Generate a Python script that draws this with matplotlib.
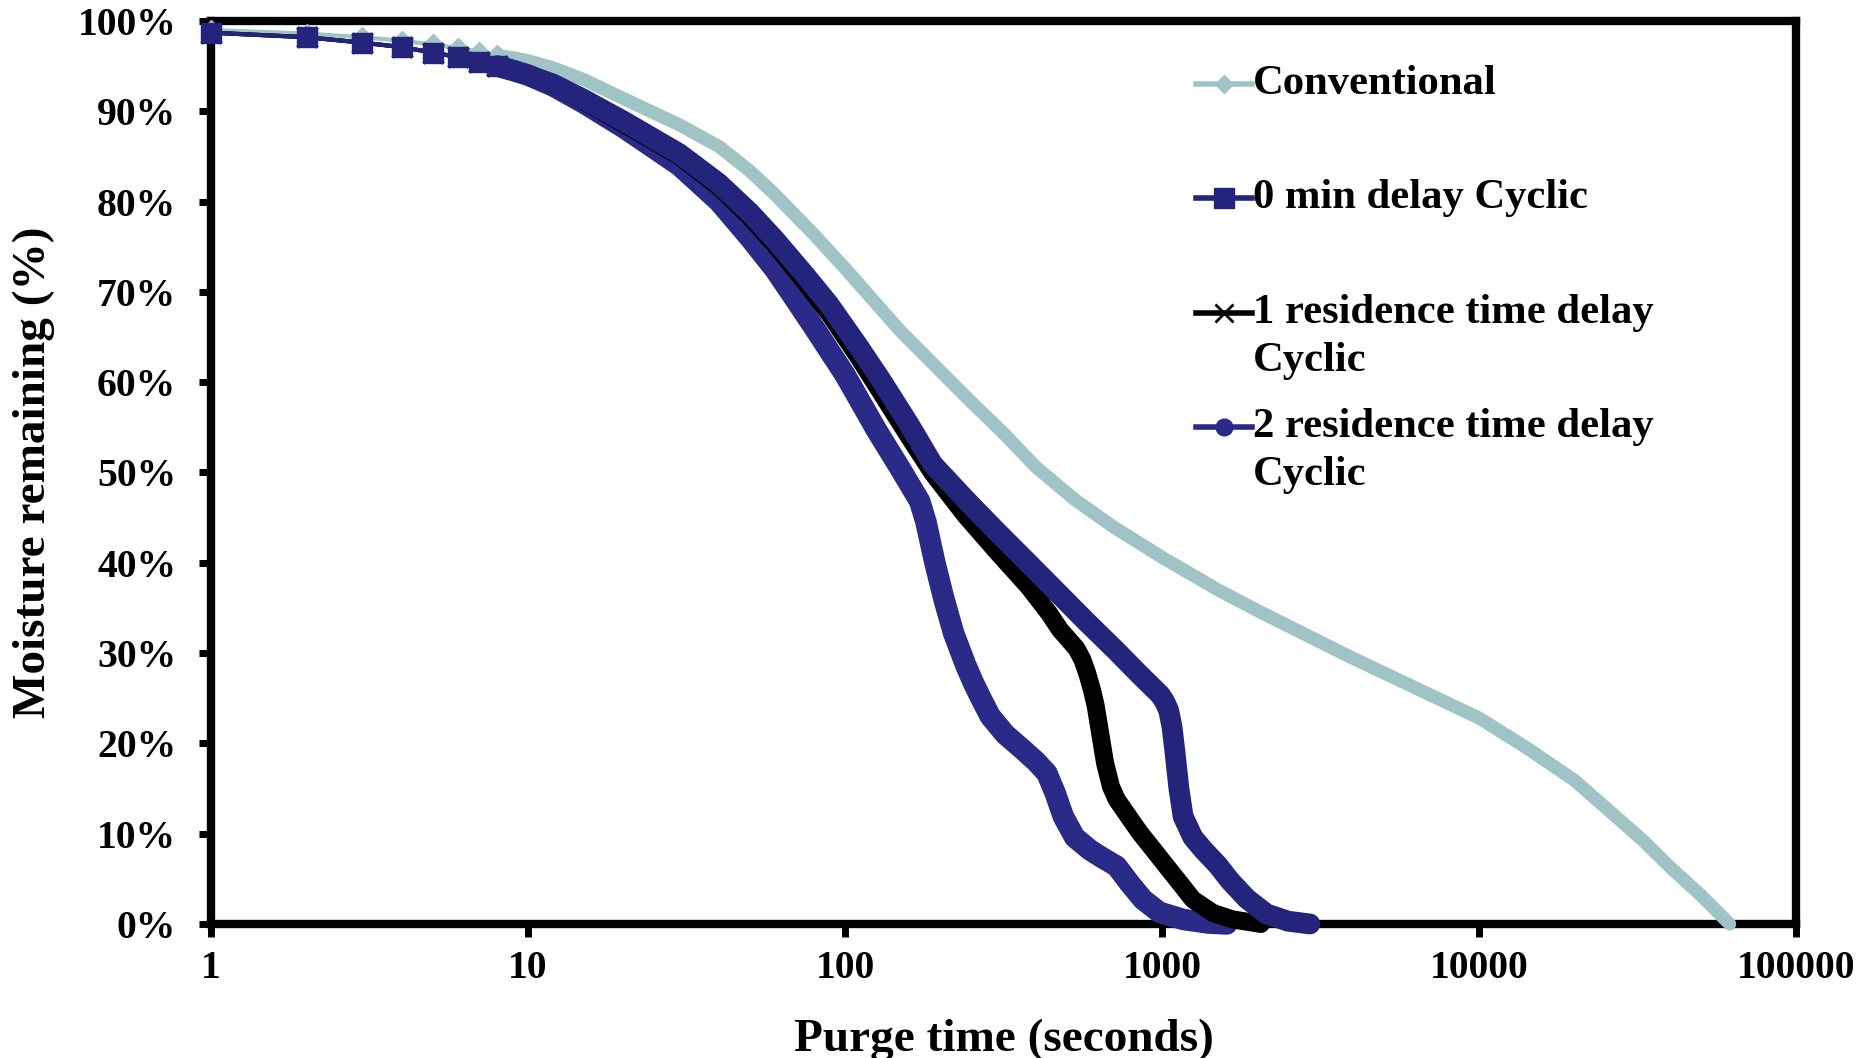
import numpy as np
import matplotlib
matplotlib.use('Agg')
import matplotlib.pyplot as plt
from matplotlib.ticker import NullLocator

plt.rcParams['font.family'] = ['Liberation Serif', 'DejaVu Serif']
plt.rcParams['font.weight'] = 'bold'
plt.rcParams['axes.labelweight'] = 'bold'

# purge time (s) and moisture remaining (%)
t_conv = [1, 2, 3, 4, 5, 6, 7, 8, 9, 10, 12, 15, 20, 30, 40, 50, 60, 80, 100, 121, 150, 200, 250, 315, 400, 530,
          700, 1000, 1500, 2000, 3905, 10000, 14000, 20000, 25800, 33000, 40000, 50000, 61700]
y_conv = [99.0, 98.6, 98.2, 97.8, 97.4, 97.0, 96.6, 96.2, 95.9, 95.6, 94.8, 93.5, 91.4, 88.5, 86.1, 83.4, 80.8, 76.3, 72.6, 69.3, 65.6, 61.2, 57.8, 54.4, 50.6, 47.0,
          44.0, 40.6, 37.0, 34.7, 29.6, 22.8, 19.6, 15.9, 12.5, 9.2, 6.3, 3.2, 0.0]

t_zero = [1, 2, 3, 4, 5, 6, 7, 8, 9, 10, 12, 15, 20, 30, 40, 50, 60, 75, 89, 110, 130, 160, 189, 240, 300, 380, 465, 580,
          719, 850, 985, 1020, 1050, 1075, 1100, 1130, 1165, 1250, 1350, 1500, 1637, 1850, 2137, 2500, 2925]
y_zero = [98.7, 98.2, 97.6, 97.1, 96.5, 96.0, 95.5, 95.0, 94.5, 94.0, 93.0, 91.3, 88.9, 85.3, 82.0, 78.8, 75.8, 71.8, 68.6, 64.0, 60.2, 55.2, 50.9, 47.0, 43.5, 39.9, 36.8, 33.4,
          30.2, 27.6, 25.4, 24.6, 23.6, 21.8, 18.8, 15.0, 11.9, 9.6, 8.2, 6.5, 4.8, 2.8, 1.1, 0.3, 0.0]

t_one = [1, 2, 3, 4, 5, 6, 7, 8, 9, 10, 12, 15, 20, 30, 40, 50, 60, 75, 89, 110, 130, 160, 189, 240, 300, 380, 440, 476,
         510, 537, 560, 580, 600, 617, 640, 661, 690, 719, 780, 851, 940, 1032, 1140, 1251, 1450, 1672, 2050]
y_one = [98.7, 98.2, 97.6, 97.1, 96.5, 96.0, 95.5, 95.0, 94.5, 94.0, 92.9, 91.1, 88.6, 85.0, 81.6, 78.3, 75.2, 71.0, 67.6, 62.8, 58.8, 53.8, 49.9, 45.2, 41.3, 37.3, 34.4, 32.6,
         31.4, 30.5, 29.3, 27.8, 26.0, 24.2, 20.8, 17.8, 15.2, 13.8, 12.0, 10.1, 8.2, 6.4, 4.5, 2.7, 1.2, 0.5, 0.0]

t_two = [1, 2, 3, 4, 5, 6, 7, 8, 9, 10, 12, 15, 20, 30, 40, 50, 60, 68.6, 80, 100, 125.6, 150, 172, 180, 192, 205, 220, 240,
         254, 270, 287, 320, 364, 400, 433, 460, 488, 530, 592, 650, 719, 790, 871, 980, 1165, 1400, 1600]
y_two = [98.7, 98.2, 97.6, 97.1, 96.5, 96.0, 95.5, 95.0, 94.5, 94.0, 92.8, 90.9, 88.2, 84.0, 80.0, 76.0, 72.5, 69.5, 66.0, 60.8, 54.7, 50.3, 46.8, 44.5, 40.0, 36.0, 32.2, 28.7,
         26.7, 24.8, 23.0, 21.0, 19.3, 18.0, 16.7, 14.5, 11.9, 9.6, 8.2, 7.3, 6.4, 4.5, 2.7, 1.3, 0.5, 0.1, 0.0]

xtick_vals = [1, 10, 100, 1000, 10000, 100000]
xtick_labels = ['1', '10', '100', '1000', '10000', '100000']
ytick_vals = [0, 10, 20, 30, 40, 50, 60, 70, 80, 90, 100]
ytick_labels = ['0%', '10%', '20%', '30%', '40%', '50%', '60%', '70%', '80%', '90%', '100%']

legend_labels = ['Conventional', '0 min delay Cyclic', '1 residence time delay\nCyclic', '2 residence time delay\nCyclic']

c_conv = '#A0C4C6'
c_zero = '#24247C'
c_one = '#000000'
c_two = '#2A2A88'

fig = plt.figure(figsize=(18.68, 10.58), dpi=100)
ax = fig.add_axes([0.113, 0.1267, 0.8485, 0.8535])

split = 8  # markers are separate below this, merge into a band above


def draw(t, y, color, marker, ms, lw_band, z, mew=1.0):
    t = np.array(t, dtype=float)
    y = np.array(y, dtype=float)
    early = t <= split
    late = t >= split
    ax.plot(t[late], y[late], '-', color=color, lw=lw_band, solid_capstyle='round',
            solid_joinstyle='round', zorder=z, clip_on=False)
    ax.plot(t[early], y[early], '-', color=color, lw=3, marker=marker, ms=ms,
            mfc=color, mec=color, mew=mew, zorder=z, clip_on=False)


draw(t_conv, y_conv, c_conv, 'D', 10, 9.5, 3)
draw(t_two, y_two, c_two, 'o', 14, 15.5, 4)
draw(t_one, y_one, c_one, 'x', 15, 13, 5, mew=2.5)
draw(t_zero, y_zero, c_zero, 's', 14, 15, 6)

ax.set_xscale('log')
ax.set_xlim(1, 100000)
ax.set_ylim(0, 100)
ax.set_xticks(xtick_vals)
ax.set_xticklabels(xtick_labels)
ax.xaxis.set_minor_locator(NullLocator())
ax.set_yticks(ytick_vals)
ax.set_yticklabels(ytick_labels)

for sp in ax.spines.values():
    sp.set_linewidth(6)
    sp.set_zorder(2.5)
ax.tick_params(axis='both', direction='out', length=9, width=5, labelsize=28.5)
ax.tick_params(axis='x', pad=10)
ax.tick_params(axis='y', pad=16)

ax.set_xlabel('Purge time (seconds)', fontsize=34, fontweight='bold', va='baseline')
ax.xaxis.set_label_coords(0.5, -0.1406)
ax.set_ylabel('Moisture remaining (%)', fontsize=34, fontweight='bold', va='center')
ax.yaxis.set_label_coords(-0.112, 0.5)

# legend drawn by hand so the marker sits on the first line of two-line labels
leg_styles = [(c_conv, 'D', 9, 1.0), (c_zero, 's', 14, 1.0), (c_one, 'x', 13, 2.0), (c_two, 'o', 12, 1.0)]
row_y0, row_step, line_step = 0.9302, 0.1268, 0.0528
for i, (lab, (col, mk, ms, mw)) in enumerate(zip(legend_labels, leg_styles)):
    yy = row_y0 - i * row_step
    ax.plot([0.6214, 0.6568], [yy, yy], '-', color=col, lw=4, transform=ax.transAxes, clip_on=False, zorder=7)
    ax.plot([0.639], [yy], marker=mk, ms=ms, color=col, mfc=col, mec=col, mew=mw,
            transform=ax.transAxes, clip_on=False, zorder=7)
    for j, part in enumerate(lab.split('\n')):
        ax.text(0.6574, yy - j * line_step, part, transform=ax.transAxes, fontsize=30.7,
                ha='left', va='center')

fig.savefig('out.png', dpi=100)
